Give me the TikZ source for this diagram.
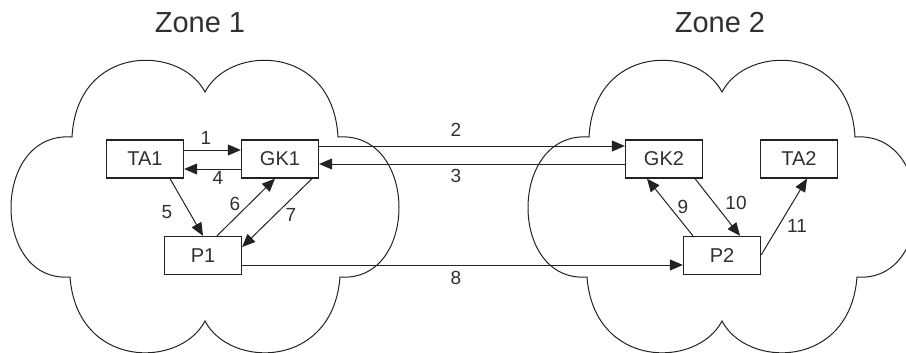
\documentclass[tikz,border=0pt]{standalone}
\usepackage{fontspec}
\setmainfont{Liberation Sans}
\usetikzlibrary{arrows.meta,calc}

\definecolor{ink}{HTML}{222222}
\definecolor{txt}{HTML}{303030}

\tikzset{
  box/.style={draw=ink, line width=1.3pt, fill=white, minimum width=77pt,
    minimum height=38pt, inner sep=0pt, text=txt,
    font=\fontsize{20}{21}\selectfont},
  link/.style={draw=ink, line width=1pt,
    -{Triangle[length=13pt,width=11pt]}},
  num/.style={text=txt, inner sep=0pt, font=\fontsize{19}{20}\selectfont},
  zone/.style={text=txt, inner sep=0pt, font=\fontsize{29}{30}\selectfont},
  cloudline/.style={draw=ink, line width=1pt},
}

% cloud outline around a centre point
\newcommand{\cloudat}[2]{%
  \draw[cloudline, shift={(#1,#2)}]
    (0,-115) .. controls (25,-163) and (128,-163) .. (133,-70)
    .. controls (214,-76) and (214,76) .. (135,70)
    .. controls (128,162) and (25,162) .. (0,114)
    .. controls (-25,162) and (-128,162) .. (-135,70)
    .. controls (-214,76) and (-214,-76) .. (-133,-70)
    .. controls (-128,-163) and (-25,-163) .. (0,-115) -- cycle;}

\begin{document}
\begin{tikzpicture}[x=1pt,y=-1pt]
  \useasboundingbox (0,0) rectangle (906,353);

  % the two zones
  \cloudat{205}{207}
  \cloudat{722}{207}
  \node[zone] (z1) at (200,23) {Zone 1};
  \node[zone] (z2) at (720,23) {Zone 2};

  % endpoints
  \node[box] (TA1) at (145,159) {TA1};
  \node[box] (GK1) at (280,159) {GK1};
  \node[box] (P1)  at (203,255.5) {P1};
  \node[box] (GK2) at (664,159) {GK2};
  \node[box] (TA2) at (799,159) {TA2};
  \node[box] (P2)  at (722,255.5) {P2};

  % signalling inside zone 1
  \draw[link] ($(TA1.east)+(0,-9)$) -- ($(GK1.west)+(0,-9)$);
  \draw[link] ($(GK1.west)+(0,10)$) -- ($(TA1.east)+(0,10)$);
  \draw[link] ($(TA1.south)+(25,0)$) -- (P1.north);
  \draw[link] ($(P1.north)+(14,0)$) -- ($(GK1.south)+(-5,0)$);
  \draw[link] ($(GK1.south)+(32,0)$) -- ($(P1.east)+(0,-8.5)$);

  % between the zones
  \draw[link] ($(GK1.east)+(0,-13)$) -- ($(GK2.west)+(0,-13)$);
  \draw[link] ($(GK2.west)+(0,5)$) -- ($(GK1.east)+(0,5)$);
  \draw[link] ($(P1.east)+(0,9.5)$) -- ($(P2.west)+(0,9.5)$);

  % signalling inside zone 2
  \draw[link] ($(P2.north)+(-29,0)$) -- ($(GK2.south)+(-17,0)$);
  \draw[link] ($(GK2.south)+(31,0)$) -- ($(P2.north)+(18,0)$);
  \draw[link] ($(P2.east)+(0,-0.5)$) -- ($(TA2.south)+(8,0)$);

  % message numbers
  \node[num] (n1)  at (206,138) {1};
  \node[num] (n2)  at (456,130) {2};
  \node[num] (n3)  at (456,176) {3};
  \node[num] (n4)  at (218,178) {4};
  \node[num] (n5)  at (167,212) {5};
  \node[num] (n6)  at (235,204) {6};
  \node[num] (n7)  at (291,215) {7};
  \node[num] (n8)  at (456,278) {8};
  \node[num] (n9)  at (683,207) {9};
  \node[num] (n10) at (736,203) {10};
  \node[num] (n11) at (797,226) {11};
\end{tikzpicture}
\end{document}
